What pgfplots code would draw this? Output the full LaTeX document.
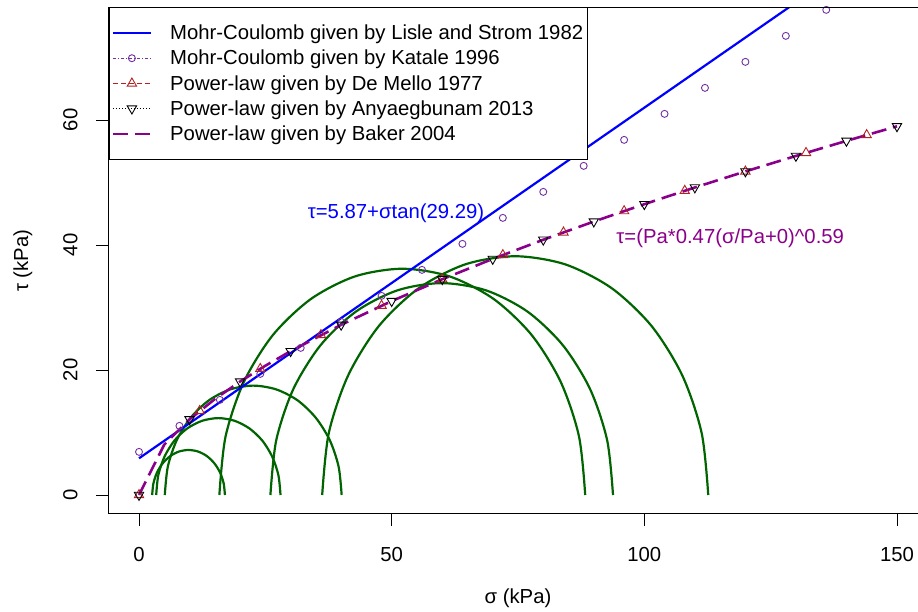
\documentclass[border=0pt]{standalone}
\usepackage{pgfplots}
\pgfplotsset{compat=1.18}
\usepackage{fontspec}
\setmainfont{Liberation Sans}
\newcommand\bigfont{\fontsize{20.3}{24.4}\selectfont}
\definecolor{katale}{RGB}{112,48,160}
\definecolor{demello}{RGB}{178,34,34}
\definecolor{baker}{RGB}{139,0,139}
\definecolor{mohr}{RGB}{0,100,0}
\begin{document}
\begin{tikzpicture}
\begin{axis}[
  at={(108.7pt,98.25pt)}, anchor=south west,
  scale only axis, width=818.6pt, height=506.25pt,
  xmin=-6, xmax=156, ymin=-3, ymax=78,
  axis lines*=left,
  xtick={0,50,100,150}, ytick={0,20,40,60},
  tick align=outside, major tick length=12.5pt,
  tick style={line width=0.8pt, black},
  axis line style={line width=0.8pt},
  after end axis/.code={\draw[line width=0.8pt] (rel axis cs:0,1) -- (rel axis cs:1,1);},
  /pgf/number format/assume math mode=true,
  tick label style={font=\bigfont},
  xticklabel style={yshift=-18pt},
  yticklabel style={xshift=-15pt, rotate=90, anchor=south},
  label style={font=\bigfont},
  xlabel={σ (kPa)}, ylabel={τ (kPa)},
  xlabel style={at={(axis description cs:0.5,-0.1664)}, anchor=center},
  ylabel style={at={(axis description cs:-0.1047,0.5)}, anchor=center},
  legend image code/.code={\draw[mark repeat=2,mark phase=2,#1] plot coordinates {(0pt,0pt) (19pt,0pt) (38pt,0pt)};},
  legend style={at={(0,1)}, anchor=north west, draw=black, line width=0.8pt,
    inner xsep=2.5pt, inner ysep=15pt, row sep=5pt, column sep=16pt,
    font=\bigfont, nodes={inner sep=2pt}},
  legend cell align=left,
]
\addlegendimage{blue, line width=2.2pt}
\addlegendentry{Mohr-Coulomb given by Lisle and Strom 1982\hspace{15pt}}
\addlegendimage{katale, line width=0.9pt, dash pattern=on 3pt off 2pt on 1pt off 2pt, mark=o, mark size=3.5pt, mark options={solid}}
\addlegendentry{Mohr-Coulomb given by Katale 1996}
\addlegendimage{demello, line width=0.9pt, dash pattern=on 5pt off 3pt, mark=triangle, mark size=5.4pt, mark options={solid}}
\addlegendentry{Power-law given by De Mello 1977}
\addlegendimage{black, line width=0.9pt, dash pattern=on 1pt off 2pt, mark=triangle, mark size=5.4pt, mark options={solid, rotate=180}}
\addlegendentry{Power-law given by Anyaegbunam 2013}
\addlegendimage{baker, line width=2.6pt, dash pattern=on 15pt off 7pt}
\addlegendentry{Power-law given by Baker 2004}

% Mohr circles
\addplot[mohr, line width=2.2pt, smooth, forget plot] coordinates {
(17.00,0) (16.75,1.86) (16.04,3.60) (14.89,5.09) (13.40,6.24) (11.66,6.96) (9.80,7.20) (7.94,6.96) (6.20,6.24) (4.71,5.09) (3.56,3.60) (2.85,1.86) (2.60,0)};
\addplot[mohr, line width=2.2pt, smooth, forget plot] coordinates {
(28.00,0) (27.58,3.18) (26.35,6.15) (24.40,8.70) (21.85,10.65) (18.88,11.88) (15.70,12.30) (12.52,11.88) (9.55,10.65) (7.00,8.70) (5.05,6.15) (3.82,3.18) (3.40,0)};
\addplot[mohr, line width=2.2pt, smooth, forget plot] coordinates {
(40.10,0) (39.50,4.53) (37.76,8.75) (34.97,12.37) (31.35,15.16) (27.13,16.90) (22.60,17.50) (18.07,16.90) (13.85,15.16) (10.23,12.37) (7.45,8.75) (5.70,4.53) (5.10,0)};
\addplot[mohr, line width=2.2pt, smooth, forget plot] coordinates {
(88.30,0) (87.07,9.37) (83.45,18.10) (77.70,25.60) (70.20,31.35) (61.47,34.97) (52.10,36.20) (42.73,34.97) (34.00,31.35) (26.50,25.60) (20.75,18.10) (17.13,9.37) (15.90,0)};
\addplot[mohr, line width=2.2pt, smooth, forget plot] coordinates {
(93.80,0) (92.64,8.77) (89.26,16.95) (83.87,23.97) (76.85,29.36) (68.67,32.74) (59.90,33.90) (51.13,32.74) (42.95,29.36) (35.93,23.97) (30.54,16.95) (27.16,8.77) (26.00,0)};
\addplot[mohr, line width=2.2pt, smooth, forget plot] coordinates {
(112.65,0) (111.35,9.89) (107.53,19.10) (101.46,27.01) (93.55,33.08) (84.34,36.90) (74.45,38.20) (64.56,36.90) (55.35,33.08) (47.44,27.01) (41.37,19.10) (37.55,9.89) (36.25,0)};

% Lisle and Strom line
\addplot[blue, line width=2.2pt, forget plot] coordinates {(0,5.87) (150,90.02)};

% Katale points
\addplot[katale, only marks, mark=o, mark size=3.5pt, line width=0.9pt, forget plot] coordinates {
(0,6.90) (8,11.06) (16,15.22) (24,19.38) (32,23.54) (40,27.70) (48,31.86) (56,36.02) (64,40.18) (72,44.34) (80,48.50) (88,52.66) (96,56.82) (104,60.98) (112,65.14) (120,69.30) (128,73.46) (136,77.62)};

% De Mello
\addplot[demello, only marks, mark=triangle, mark size=5.4pt, line width=0.9pt, forget plot] coordinates {
(0,0) (12,13.46) (24,20.19) (36,25.60) (48,30.29) (60,34.52) (72,38.40) (84,42.02) (96,45.43) (108,48.68) (120,51.77) (132,54.74) (144,57.60)};

% Anyaegbunam
\addplot[black, only marks, mark=triangle, mark size=5.4pt, mark options={rotate=180}, line width=0.9pt, forget plot] coordinates {
(0,0) (10,12.10) (20,18.15) (30,23.01) (40,27.23) (50,31.02) (60,34.52) (70,37.77) (80,40.84) (90,43.75) (100,46.53) (110,49.20) (120,51.77) (130,54.25) (140,56.66) (150,58.99)};

% Baker
\addplot[baker, line width=2.6pt, dash pattern=on 15pt off 7pt, forget plot] coordinates {
(0,0) (5,8.07) (10,12.10) (15,15.34) (20,18.15) (25,20.68) (30,23.01) (40,27.23) (50,31.02) (60,34.52) (70,37.77) (80,40.84) (90,43.75) (100,46.53) (110,49.20) (120,51.77) (130,54.25) (140,56.66) (150,58.99)};

\node[text=blue, font=\bigfont] at (axis cs:50.86,45.07) {τ=5.87+σtan(29.29)};
\node[text=baker, font=\bigfont] at (axis cs:117.0,41.07) {τ=(Pa*0.47(σ/Pa+0)\textasciicircum0.59};
\end{axis}
\pgfresetboundingbox
\useasboundingbox (0pt,0pt) rectangle (918pt,612pt);
\end{tikzpicture}
\end{document}
